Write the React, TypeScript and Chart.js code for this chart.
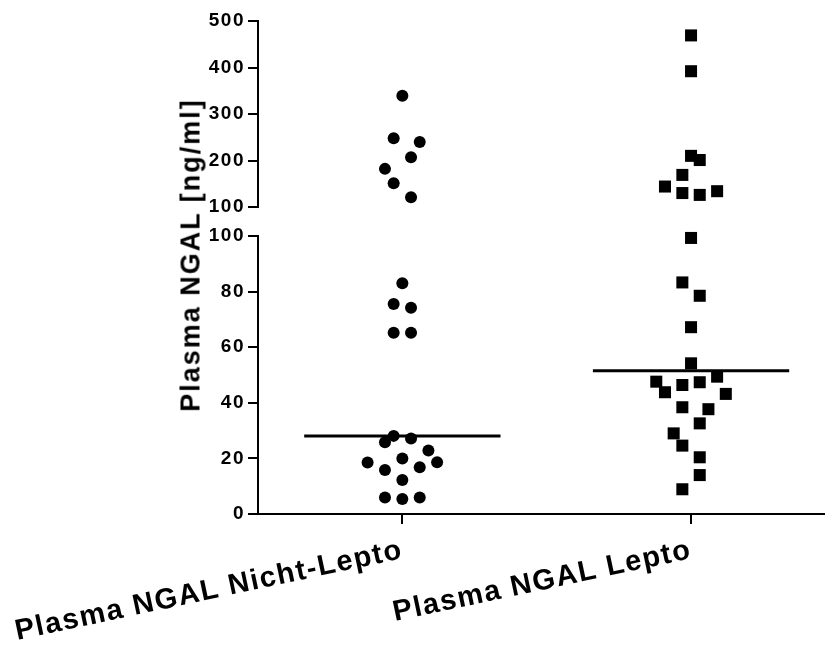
import React, { useEffect, useRef } from 'react';
import { Chart, registerables } from 'chart.js';

Chart.register(...registerables);

// ---- data ----
const categories = ['Plasma NGAL Nicht-Lepto', 'Plasma NGAL Lepto'];
const yTitle = 'Plasma NGAL [ng/ml]';

const nichtLeptoValues = [339, 248, 240, 207, 182, 151, 121, 83, 75.5, 74.2, 65.2, 65.2, 28.1, 27.2, 25.8, 22.8, 20.0, 18.5, 18.6, 15.8, 16.8, 12.2, 5.9, 5.4, 5.9];
const nichtLeptoJitter = [0, -1, 2, 1, -2, -1, 1, 0, -1, 1, -1, 1, -1, 1, -2, 3, 0, -4, 4, -2, 2, 0, -2, 0, 2];

const leptoValues = [469, 392, 210, 201, 169, 144, 130, 126, 134, 99.3, 83.3, 78.5, 67.2, 54.2, 47.6, 46.4, 47.4, 49.4, 43.8, 43.2, 38.4, 37.7, 32.6, 29.0, 24.6, 20.4, 14.0, 8.9];
const leptoJitter = [0, 0, 0, 1, -1, -3, -1, 1, 3, 0, -1, 1, 0, 0, -4, -1, 1, 3, -3, 4, -1, 2, 1, -2, -1, 1, 1, -1];

const medians = [28.1, 51.5];

const lowerRange = [0, 100];
const lowerStep = 20;
const upperRange = [100, 500];
const upperStep = 100;

// ---- style constants ----
const JITTER_STEP = 0.0301;
const MEDIAN_HALF = 0.34;
const FONT_FAMILY = '"Liberation Sans", Arial, Helvetica, sans-serif';

const spacingPlugin = {
  id: 'spacing',
  beforeLayout(chart: any) { chart.ctx.letterSpacing = '1.5px'; },
  beforeDraw(chart: any) { chart.ctx.letterSpacing = '1.5px'; },
};

function points(values: number[], jitter: number[], idx: number, upper: boolean) {
  return values
    .map((v, i) => ({ x: idx + jitter[i] * JITTER_STEP, y: v }))
    .filter((p) => (upper ? p.y > lowerRange[1] : p.y <= lowerRange[1]));
}

function buildDatasets(upper: boolean) {
  const ds: any[] = [
    {
      type: 'scatter',
      data: points(nichtLeptoValues, nichtLeptoJitter, 0, upper),
      pointStyle: 'circle',
      pointRadius: 6,
      pointBackgroundColor: '#000',
      pointBorderWidth: 0,
      clip: false,
    },
    {
      type: 'scatter',
      data: points(leptoValues, leptoJitter, 1, upper),
      pointStyle: 'rect',
      pointRadius: 8.5,
      pointBackgroundColor: '#000',
      pointBorderWidth: 0,
      clip: false,
    },
  ];
  medians.forEach((m, i) => {
    const inRange = upper ? m > lowerRange[1] : m <= lowerRange[1];
    if (!inRange) return;
    ds.push({
      type: 'line',
      data: [
        { x: i - MEDIAN_HALF, y: m },
        { x: i + MEDIAN_HALF, y: m },
      ],
      borderColor: '#000',
      borderWidth: 3,
      pointRadius: 0,
      fill: false,
      clip: false,
    });
  });
  return ds;
}

function makeOptions(upper: boolean): any {
  const tickFont = { family: FONT_FAMILY, size: 19, weight: 'bold' };
  return {
    animation: false,
    responsive: false,
    events: [],
    layout: {
      autoPadding: false,
      padding: upper ? { top: 21, bottom: 8, left: 0, right: 0 } : { top: 21, bottom: 0, left: 0, right: 0 },
    },
    plugins: { legend: { display: false }, tooltip: { enabled: false } },
    scales: {
      x: {
        type: 'linear',
        display: !upper,
        min: -0.5,
        max: 1.464,
        afterBuildTicks: (s: any) => {
          s.ticks = categories.map((_, i) => ({ value: i }));
        },
        afterFit: (s: any) => {
          s.height = upper ? 0 : 136;
          s.paddingLeft = 0;
          s.paddingRight = 0;
        },
        ticks: {
          callback: (v: number) => categories[v],
          minRotation: 12,
          maxRotation: 12,
          autoSkip: false,
          color: '#000',
          font: { family: FONT_FAMILY, size: 29, weight: 'bold' },
          padding: 9,
        },
        grid: { drawOnChartArea: false, color: '#000', lineWidth: 2, tickLength: 10 },
        border: { display: true, color: '#000', width: 2 },
      },
      y: {
        type: 'linear',
        min: upper ? upperRange[0] : lowerRange[0],
        max: upper ? upperRange[1] : lowerRange[1],
        afterFit: (s: any) => {
          s.width = 258;
          s.paddingTop = 0;
          s.paddingBottom = 0;
        },
        ticks: {
          stepSize: upper ? upperStep : lowerStep,
          color: '#000',
          font: tickFont,
          padding: 3,
        },
        grid: { drawOnChartArea: false, color: '#000', lineWidth: 2, tickLength: 10 },
        border: { display: true, color: '#000', width: 2 },
      },
    },
  };
}

export default function App() {
  const upperRef = useRef<HTMLCanvasElement | null>(null);
  const lowerRef = useRef<HTMLCanvasElement | null>(null);

  useEffect(() => {
    const charts: Chart[] = [];
    if (upperRef.current) {
      charts.push(
        new Chart(upperRef.current, {
          type: 'scatter',
          data: { datasets: buildDatasets(true) },
          options: makeOptions(true),
          plugins: [spacingPlugin],
        } as any)
      );
    }
    if (lowerRef.current) {
      charts.push(
        new Chart(lowerRef.current, {
          type: 'scatter',
          data: { datasets: buildDatasets(false) },
          options: makeOptions(false),
          plugins: [spacingPlugin],
        } as any)
      );
    }
    return () => charts.forEach((c) => c.destroy());
  }, []);

  return (
    <div style={{ position: 'absolute', left: 0, top: 0, width: 825, height: 650, background: '#fff', overflow: 'hidden' }}>
      <canvas ref={upperRef} width={825} height={215} style={{ position: 'absolute', left: 0, top: 0 }} />
      <canvas ref={lowerRef} width={825} height={435} style={{ position: 'absolute', left: 0, top: 215 }} />
      <div
        style={{
          position: 'absolute',
          left: 191,
          top: 255,
          transform: 'translate(-50%, -50%) rotate(-90deg)',
          whiteSpace: 'nowrap',
          fontFamily: FONT_FAMILY,
          fontWeight: 'bold',
          fontSize: 27,
          letterSpacing: '2px',
          lineHeight: 1,
          color: '#000',
        }}
      >
        {yTitle}
      </div>
    </div>
  );
}
